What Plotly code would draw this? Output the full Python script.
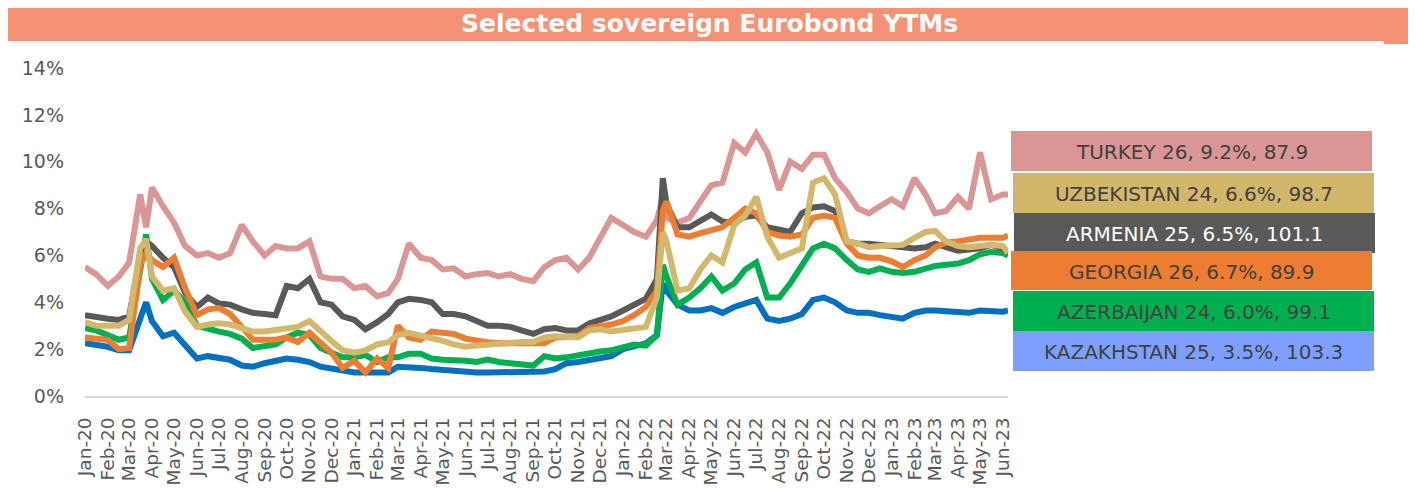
import plotly.graph_objects as go

# ---------------- data ----------------
dates = [
    "2020-01-01", "2020-01-16", "2020-02-01", "2020-02-16", "2020-03-01", "2020-03-16", "2020-03-24",
    "2020-04-01", "2020-04-16", "2020-05-01", "2020-05-16", "2020-06-01", "2020-06-16", "2020-07-01",
    "2020-07-16", "2020-08-01", "2020-08-16", "2020-09-01", "2020-09-16", "2020-10-01", "2020-10-16",
    "2020-11-01", "2020-11-16", "2020-12-01", "2020-12-16", "2021-01-01", "2021-01-16", "2021-02-01",
    "2021-02-16", "2021-03-01", "2021-03-16", "2021-04-01", "2021-04-16", "2021-05-01", "2021-05-16",
    "2021-06-01", "2021-06-16", "2021-07-01", "2021-07-16", "2021-08-01", "2021-08-16", "2021-09-01",
    "2021-09-16", "2021-10-01", "2021-10-16", "2021-11-01", "2021-11-16", "2021-12-01", "2021-12-16",
    "2022-01-01", "2022-01-16", "2022-02-01", "2022-02-16", "2022-02-24", "2022-03-01", "2022-03-16",
    "2022-04-01", "2022-04-16", "2022-05-01", "2022-05-16", "2022-06-01", "2022-06-16", "2022-07-01",
    "2022-07-16", "2022-08-01", "2022-08-16", "2022-09-01", "2022-09-16", "2022-10-01", "2022-10-16",
    "2022-11-01", "2022-11-16", "2022-12-01", "2022-12-16", "2023-01-01", "2023-01-16", "2023-02-01",
    "2023-02-16", "2023-03-01", "2023-03-16", "2023-04-01", "2023-04-16", "2023-05-01", "2023-05-16",
    "2023-06-01", "2023-06-08",
]

turkey = [
    5.5, 5.2, 4.7, 5.1, 5.7, 8.6, 7.2, 8.9, 8.1, 7.4, 6.4, 6.0, 6.1, 5.9, 6.1, 7.3, 6.6, 6.0, 6.4, 6.3,
    6.3, 6.6, 5.1, 5.0, 5.0, 4.6, 4.7, 4.25, 4.4, 5.0, 6.5, 5.9, 5.8, 5.4, 5.45, 5.1, 5.2, 5.25, 5.1,
    5.2, 5.0, 4.9, 5.5, 5.8, 5.9, 5.4, 5.9, 6.7, 7.6, 7.3, 7.0, 6.8, 7.5, 8.5, 7.6, 7.4, 7.6, 8.3, 9.0,
    9.1, 10.8, 10.4, 11.2, 10.4, 8.8, 10.0, 9.7, 10.3, 10.3, 9.3, 8.7, 8.0, 7.8, 8.1, 8.4, 8.1, 9.3,
    8.6, 7.8, 7.9, 8.5, 8.0, 10.4, 8.4, 8.6, 8.6,
]
uzbekistan = [
    3.15, 3.0, 3.0, 3.0, 3.25, 6.3, 6.7, 5.1, 4.5, 4.6, 3.6, 2.95, 3.05, 3.1, 3.05, 2.9, 2.75, 2.75,
    2.8, 2.85, 2.95, 3.2, 2.75, 2.35, 1.95, 1.85, 1.95, 2.2, 2.3, 2.6, 2.7, 2.6, 2.45, 2.35, 2.2, 2.1,
    2.15, 2.2, 2.25, 2.3, 2.3, 2.3, 2.5, 2.55, 2.5, 2.5, 2.8, 2.85, 2.75, 2.8, 2.85, 2.95, 4.2, 7.0,
    6.6, 4.5, 4.6, 5.4, 6.0, 5.7, 7.3, 7.7, 8.5, 6.8, 5.9, 6.1, 6.3, 9.1, 9.3, 8.6, 6.6, 6.5, 6.35,
    6.4, 6.45, 6.45, 6.75, 7.0, 7.05, 6.6, 6.4, 6.35, 6.4, 6.45, 6.4, 6.1,
]
armenia = [
    3.45, 3.35, 3.3, 3.25, 3.4, 6.0, 6.6, 6.4, 5.9, 5.5, 4.4, 3.8, 4.2, 3.95, 3.9, 3.7, 3.55, 3.5,
    3.45, 4.7, 4.6, 5.0, 4.0, 3.9, 3.4, 3.25, 2.85, 3.15, 3.5, 4.0, 4.15, 4.1, 4.0, 3.5, 3.5, 3.4,
    3.2, 3.0, 3.0, 2.95, 2.8, 2.65, 2.85, 2.9, 2.8, 2.8, 3.1, 3.25, 3.4, 3.65, 3.9, 4.15, 5.0, 9.3,
    8.2, 7.2, 7.2, 7.5, 7.75, 7.45, 7.4, 7.65, 7.7, 7.2, 7.1, 7.0, 7.8, 8.05, 8.1, 7.9, 6.6, 6.5,
    6.5, 6.45, 6.45, 6.35, 6.3, 6.35, 6.5, 6.35, 6.2, 6.25, 6.3, 6.45, 6.3, 6.15,
]
georgia = [
    2.5, 2.45, 2.4, 2.0, 2.05, 5.6, 6.1, 5.8, 5.5, 5.9, 4.6, 3.45, 3.7, 3.75, 3.5, 2.95, 2.4, 2.4,
    2.4, 2.5, 2.3, 2.7, 2.3, 1.85, 1.2, 1.5, 1.0, 1.6, 1.2, 3.0, 2.5, 2.4, 2.75, 2.7, 2.65, 2.45,
    2.35, 2.3, 2.25, 2.25, 2.2, 2.2, 2.25, 2.5, 2.5, 2.55, 2.9, 2.95, 3.05, 3.2, 3.45, 3.8, 4.5, 7.9,
    8.3, 6.9, 6.8, 6.95, 7.1, 7.2, 7.6, 8.0, 7.8, 7.0, 6.85, 6.8, 6.9, 7.6, 7.7, 7.6, 6.5, 6.0, 5.9,
    5.9, 5.75, 5.5, 5.8, 6.0, 6.35, 6.55, 6.6, 6.7, 6.75, 6.75, 6.75, 6.85,
]
azerbaijan = [
    2.9, 2.8, 2.6, 2.4, 2.5, 5.5, 6.9, 5.0, 4.1, 4.5, 4.0, 3.0, 2.85, 2.75, 2.65, 2.45, 2.05, 2.1,
    2.2, 2.5, 2.7, 2.6, 2.05, 1.85, 1.65, 1.65, 1.75, 1.45, 1.65, 1.65, 1.8, 1.8, 1.6, 1.55, 1.55,
    1.5, 1.45, 1.55, 1.45, 1.4, 1.4, 1.3, 1.7, 1.6, 1.65, 1.75, 1.85, 1.9, 1.95, 2.1, 2.2, 2.15, 2.6,
    5.6, 5.1, 3.9, 4.2, 4.6, 5.1, 4.5, 4.8, 5.4, 5.7, 4.2, 4.2, 4.8, 5.6, 6.3, 6.5, 6.3, 5.8, 5.4,
    5.3, 5.45, 5.3, 5.25, 5.3, 5.45, 5.55, 5.6, 5.65, 5.8, 6.05, 6.15, 6.1, 6.0,
]
kazakhstan = [
    2.25, 2.2, 2.1, 1.95, 1.95, 3.3, 4.0, 3.2, 2.55, 2.7, 2.2, 1.6, 1.7, 1.6, 1.55, 1.3, 1.25, 1.4,
    1.5, 1.6, 1.55, 1.45, 1.25, 1.15, 1.05, 1.0, 1.0, 1.0, 1.0, 1.25, 1.25, 1.2, 1.15, 1.1, 1.05,
    1.05, 1.0, 1.0, 1.0, 1.0, 1.0, 1.0, 1.05, 1.15, 1.4, 1.45, 1.55, 1.6, 1.7, 2.0, 2.15, 2.25, 2.6,
    4.8, 4.5, 3.9, 3.65, 3.65, 3.75, 3.55, 3.8, 3.95, 4.1, 3.3, 3.2, 3.3, 3.5, 4.1, 4.2, 4.0, 3.65,
    3.55, 3.55, 3.45, 3.35, 3.3, 3.55, 3.65, 3.65, 3.6, 3.55, 3.55, 3.65, 3.6, 3.6, 3.65,
]

legend_labels = [
    "TURKEY 26, 9.2%, 87.9",
    "UZBEKISTAN 24, 6.6%, 98.7",
    "ARMENIA 25, 6.5%, 101.1",
    "GEORGIA 26, 6.7%, 89.9",
    "AZERBAIJAN 24, 6.0%, 99.1",
    "KAZAKHSTAN 25, 3.5%, 103.3",
]
title_text = "Selected sovereign Eurobond YTMs"
y_ticks = [0, 2, 4, 6, 8, 10, 12, 14]
y_tick_labels = ["0%", "2%", "4%", "6%", "8%", "10%", "12%", "14%"]

# ---------------- styles ----------------
PAGE_W, PAGE_H = 1416, 488
BODY = 8  # default page body margin
W, H = PAGE_W - BODY, PAGE_H - BODY
PL, PR, PT, PB = 85, 1008, 68, 396  # plot area in page pixels
FONT = "DejaVu Sans"
TICK_COLOR = "#595959"

line_colors = {
    "turkey": "#D99694",
    "uzbekistan": "#D3B86C",
    "armenia": "#595959",
    "georgia": "#ED7D31",
    "azerbaijan": "#00B050",
    "kazakhstan": "#0070C0",
}
box_styles = [  # fill, text colour, page-pixel box (x0, y0, x1, y1)
    ("#D99694", "#404040", (1011, 131, 1372, 171)),
    ("#D2B76A", "#404040", (1013, 173, 1374, 213)),
    ("#595959", "#FFFFFF", (1014, 213, 1375, 253)),
    ("#ED7D31", "#404040", (1011, 251, 1372, 290)),
    ("#00B050", "#404040", (1013, 291, 1374, 331)),
    ("#7F9FFF", "#404040", (1013, 331, 1374, 371)),
]


def px_x(x):
    return (x - PL) / (PR - PL)


def px_y(y):
    return (PB - y) / (PB - PT)


fig = go.Figure()
series = [
    ("turkey", turkey),
    ("kazakhstan", kazakhstan),
    ("azerbaijan", azerbaijan),
    ("armenia", armenia),
    ("georgia", georgia),
    ("uzbekistan", uzbekistan),
]
for name, vals in series:
    fig.add_trace(go.Scatter(
        x=dates, y=vals, mode="lines", name=name,
        line=dict(color=line_colors[name], width=6, shape="linear"),
        showlegend=False, hoverinfo="skip",
    ))

shapes = []
annotations = []
band = "#F59275"
shapes.append(dict(type="rect", xref="paper", yref="paper",
                   x0=px_x(7), x1=px_x(1410), y0=px_y(41), y1=px_y(3),
                   fillcolor=band, line=dict(width=0), layer="below"))
shapes.append(dict(type="rect", xref="paper", yref="paper",
                   x0=px_x(1384), x1=px_x(1410), y0=px_y(44), y1=px_y(40),
                   fillcolor=band, line=dict(width=0), layer="below"))
annotations.append(dict(text="<b>" + title_text + "</b>", xref="paper", yref="paper",
                        x=px_x(709), y=px_y(23), xanchor="center", yanchor="middle",
                        showarrow=False, font=dict(family=FONT, size=25, color="#FFFFFF")))

for label, (fill, tcol, (x0, y0, x1, y1)) in zip(legend_labels, box_styles):
    shapes.append(dict(type="rect", xref="paper", yref="paper",
                       x0=px_x(x0), x1=px_x(x1), y0=px_y(y1), y1=px_y(y0),
                       fillcolor=fill, line=dict(width=0)))
    annotations.append(dict(text=label, xref="paper", yref="paper",
                            x=px_x((x0 + x1) / 2), y=px_y((y0 + y1) / 2 + 1),
                            xanchor="center", yanchor="middle", showarrow=False,
                            font=dict(family=FONT, size=20, color=tcol)))

fig.update_layout(
    width=W, height=H,
    margin=dict(l=PL - BODY, r=W - (PR - BODY), t=PT - BODY, b=H - (PB - BODY), pad=0,
                autoexpand=False),
    paper_bgcolor="#FFFFFF", plot_bgcolor="#FFFFFF",
    shapes=shapes, annotations=annotations,
    showlegend=False,
    font=dict(family=FONT, color=TICK_COLOR),
)
fig.update_xaxes(
    type="date", range=["2020-01-01", "2023-06-08"],
    tick0="2020-01-01", dtick="M1", tickformat="%b-%y", tickangle=-90,
    showgrid=False, zeroline=False, automargin=False,
    showline=True, linecolor="#D9D9D9", linewidth=2,
    ticks="", ticklabelstandoff=12,
    tickfont=dict(family=FONT, size=18.5, color=TICK_COLOR),
)
fig.update_yaxes(
    range=[0, 14], tickmode="array", tickvals=y_ticks, ticktext=y_tick_labels,
    showgrid=False, zeroline=False, showline=False, automargin=False,
    ticks="", ticklabelstandoff=20,
    tickfont=dict(family=FONT, size=19, color=TICK_COLOR),
)

fig.write_html("out.html")
